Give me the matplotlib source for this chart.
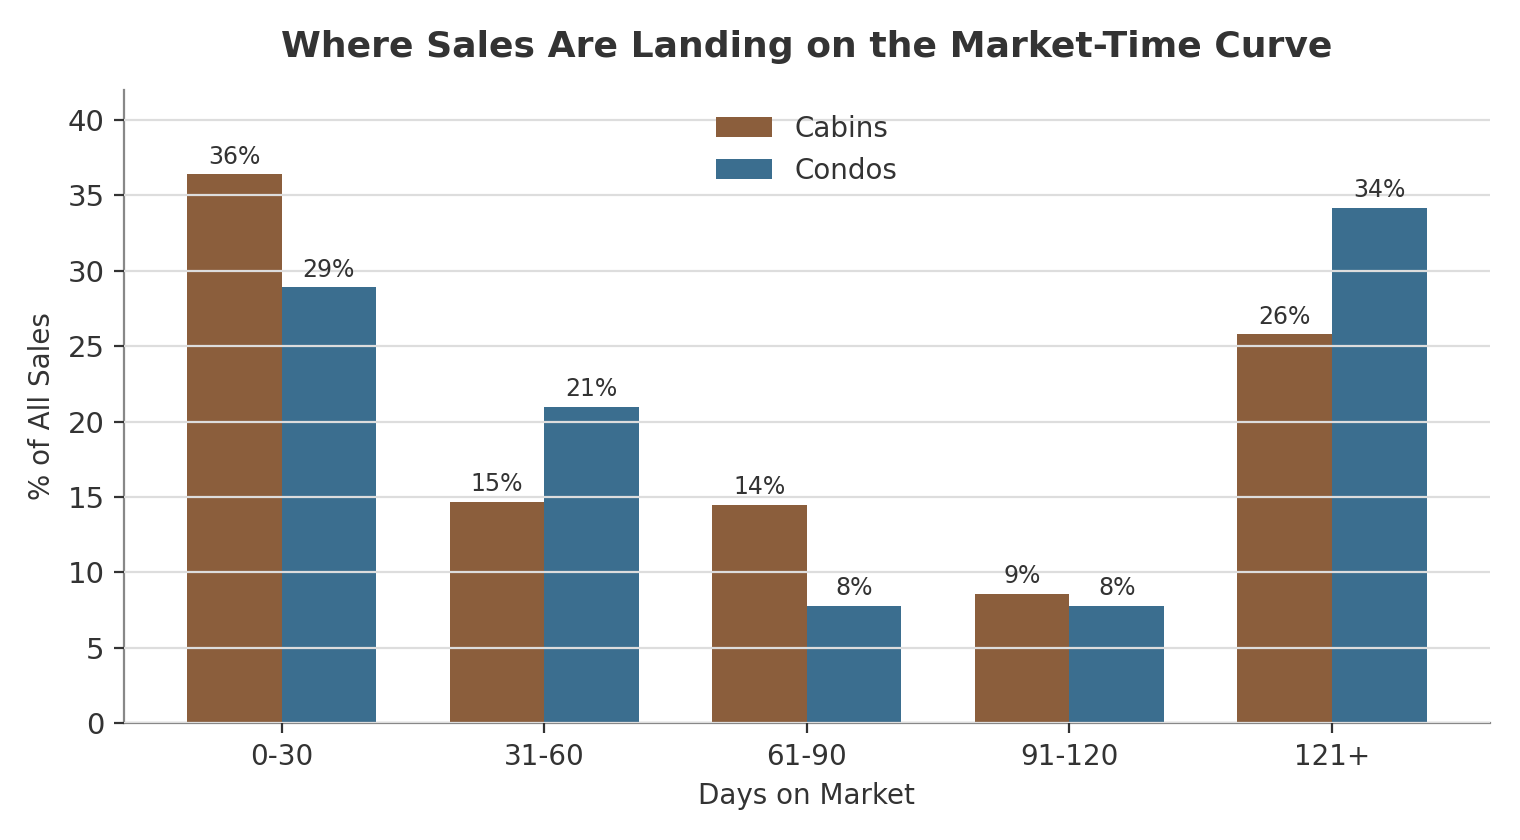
import numpy as np
import matplotlib.pyplot as plt

categories = ["0-30", "31-60", "61-90", "91-120", "121+"]
cabins = [36.4, 14.7, 14.5, 8.6, 25.8]
condos = [28.9, 21.0, 7.8, 7.8, 34.2]

plt.rcParams['text.color'] = '#333333'
plt.rcParams['axes.labelcolor'] = '#333333'
plt.rcParams['xtick.color'] = '#333333'
plt.rcParams['ytick.color'] = '#333333'

x = np.arange(len(categories))
w = 0.36

fig, ax = plt.subplots(figsize=(7.6, 4.2), dpi=200)
b1 = ax.bar(x - w / 2, cabins, w, color="#8B5E3C", label="Cabins")
b2 = ax.bar(x + w / 2, condos, w, color="#3B6E8F", label="Condos")

for bars in (b1, b2):
    ax.bar_label(bars, labels=[f"{v:.0f}%" for v in bars.datavalues], padding=2, fontsize=8.5)

ax.set_axisbelow(False)
ax.yaxis.grid(True, color="#dddddd", linewidth=0.8)
ax.set(xlim=(-0.6, 4.6), ylim=(0, 42))
ax.set_xticks(x, categories)
ax.set_yticks(range(0, 41, 5))
ax.tick_params(labelsize=10.5)
ax.tick_params(axis='x', labelsize=10)
for s in ("top", "right"):
    ax.spines[s].set_visible(False)
for s in ("left", "bottom"):
    ax.spines[s].set_color("#888888")
ax.set_xlabel("Days on Market", fontsize=10)
ax.set_ylabel("% of All Sales", fontsize=10)
ax.set_title("Where Sales Are Landing on the Market-Time Curve", fontsize=13, fontweight="bold", pad=12)
ax.legend(loc="upper center", frameon=False, fontsize=10)

fig.subplots_adjust(left=0.0816, right=0.98, bottom=0.139, top=0.893)
plt.savefig("out.png", dpi=200)
